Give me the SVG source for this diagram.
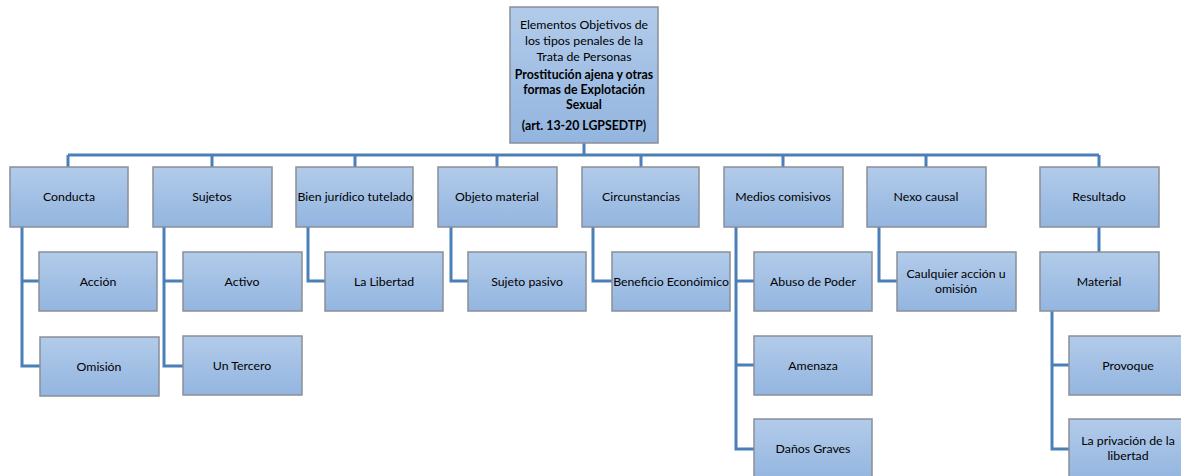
<svg xmlns="http://www.w3.org/2000/svg" width="1181" height="476" viewBox="0 0 1181 476">
<defs>
<linearGradient id="g" x1="0" y1="0" x2="0" y2="1">
<stop offset="0" stop-color="#b2cbea"/>
<stop offset="1" stop-color="#93b5df"/>
</linearGradient>
<style>
.b{fill:url(#g);stroke:#8a8f96;stroke-width:1.5}
.t{font-family:Lato,"Liberation Sans",sans-serif;font-size:12.3px;fill:#000;text-anchor:middle}
.bd{font-weight:bold}
.c{fill:none;stroke:#4a7fb8;stroke-width:3}
</style>
</defs>
<rect width="1181" height="476" fill="#fff"/>
<g id="connectors">
<path class="c" d="M584 143V155M68 155H1099M68 155V167M212 155V167M355 155V167M497 155V167M641 155V167M783 155V167M926 155V167M1099 155V167"/>
<path class="c" d="M22 227V366H40M22 281H39"/>
<path class="c" d="M164 227V366H183M164 281H183"/>
<path class="c" d="M308 227V281H325"/>
<path class="c" d="M451 227V281H468"/>
<path class="c" d="M593 227V281H612"/>
<path class="c" d="M736 227V449H754M736 281H754M736 365H754"/>
<path class="c" d="M879 227V281H897"/>
<path class="c" d="M1099 227V252"/>
<path class="c" d="M1052 311V449H1069M1052 365H1069"/>
</g>
<g id="root"><rect class="b" x="510" y="7" width="148" height="136"/>
<text class="t" x="584" y="29">Elementos Objetivos de</text>
<text class="t" x="584" y="45">los tipos penales de la</text>
<text class="t" x="584" y="61">Trata de Personas</text>
<text class="t bd" x="584" y="79">Prostitución ajena y otras</text>
<text class="t bd" x="584" y="94">formas de Explotación</text>
<text class="t bd" x="584" y="109">Sexual</text>
<text class="t bd" x="584" y="130">(art. 13-20 LGPSEDTP)</text></g>
<g id="conducta"><rect class="b" x="10" y="167" width="118" height="60"/><text class="t" x="69" y="201">Conducta</text></g>
<g id="sujetos"><rect class="b" x="153" y="167" width="119" height="60"/><text class="t" x="212" y="201">Sujetos</text></g>
<g id="bien"><rect class="b" x="296" y="167" width="117" height="60"/><text class="t" x="355" y="201">Bien jurídico tutelado</text></g>
<g id="objeto"><rect class="b" x="438" y="167" width="119" height="60"/><text class="t" x="497" y="201">Objeto material</text></g>
<g id="circ"><rect class="b" x="582" y="167" width="117" height="60"/><text class="t" x="641" y="201">Circunstancias</text></g>
<g id="medios"><rect class="b" x="724" y="167" width="119" height="60"/><text class="t" x="783" y="201">Medios comisivos</text></g>
<g id="nexo"><rect class="b" x="867" y="167" width="119" height="60"/><text class="t" x="926" y="201">Nexo causal</text></g>
<g id="resultado"><rect class="b" x="1040" y="167" width="119" height="60"/><text class="t" x="1099" y="201">Resultado</text></g>
<g id="accion"><rect class="b" x="39" y="252" width="118" height="59"/><text class="t" x="98" y="285.5">Acción</text></g>
<g id="omision"><rect class="b" x="40" y="337" width="119" height="59"/><text class="t" x="99" y="370.5">Omisión</text></g>
<g id="activo"><rect class="b" x="183" y="252" width="119" height="59"/><text class="t" x="242" y="285.5">Activo</text></g>
<g id="tercero"><rect class="b" x="183" y="336" width="119" height="59"/><text class="t" x="242" y="369.5">Un Tercero</text></g>
<g id="libertad"><rect class="b" x="325" y="252" width="118" height="59"/><text class="t" x="384" y="285.5">La Libertad</text></g>
<g id="pasivo"><rect class="b" x="468" y="252" width="118" height="59"/><text class="t" x="527" y="285.5">Sujeto pasivo</text></g>
<g id="beneficio"><rect class="b" x="612" y="252" width="118" height="59"/><text class="t" x="671" y="285.5">Beneficio Econóimico</text></g>
<g id="abuso"><rect class="b" x="754" y="252" width="118" height="59"/><text class="t" x="813" y="285.5">Abuso de Poder</text></g>
<g id="amenaza"><rect class="b" x="754" y="336" width="118" height="59"/><text class="t" x="813" y="369.5">Amenaza</text></g>
<g id="danos"><rect class="b" x="754" y="419" width="118" height="62"/><text class="t" x="813" y="452.5">Daños Graves</text></g>
<g id="cualquier"><rect class="b" x="897" y="252" width="119" height="59"/><text class="t" x="956" y="278">Caulquier acción u</text><text class="t" x="956" y="293">omisión</text></g>
<g id="material"><rect class="b" x="1040" y="252" width="119" height="59"/><text class="t" x="1099" y="285.5">Material</text></g>
<g id="provoque"><rect class="b" x="1069" y="336" width="119" height="59"/><text class="t" x="1128" y="369.5">Provoque</text></g>
<g id="privacion"><rect class="b" x="1069" y="419" width="119" height="62"/><text class="t" x="1128" y="445">La privación de la</text><text class="t" x="1128" y="460">libertad</text></g>
</svg>
